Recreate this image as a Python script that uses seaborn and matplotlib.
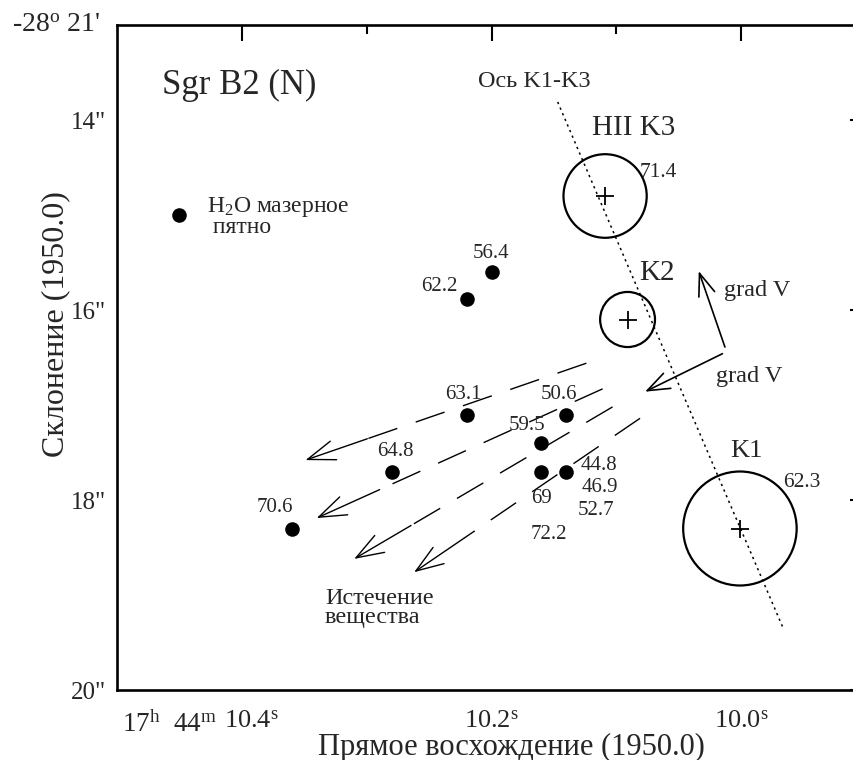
import numpy as np
import matplotlib
matplotlib.use("Agg")
import matplotlib.pyplot as plt
from matplotlib.patches import Ellipse
from matplotlib.transforms import blended_transform_factory, ScaledTranslation
import pandas as pd
import seaborn as sns

# H2O maser spots: RA in seconds (17h44m + s), Dec in arcsec (-28deg21' + ")
maser_ra = [10.22, 10.20, 10.22, 10.14, 10.16, 10.28, 10.16, 10.14, 10.36]
maser_dec = [15.88, 15.60, 17.10, 17.10, 17.40, 17.70, 17.70, 17.70, 18.30]

# radial velocities (km/s) of maser features and the spot each one belongs to
vel_text = ["62.2", "56.4", "63.1", "50.6", "59.5", "64.8",
            "69", "72.2", "44.8", "46.9", "52.7", "70.6"]
vel_spot = [0, 1, 2, 3, 4, 5, 6, 6, 7, 7, 7, 8]

# compact HII regions
hii_name = ["HII K3", "K2", "K1"]
hii_ra = [10.109, 10.091, 10.001]
hii_dec = [14.80, 16.10, 18.30]
hii_radius = [0.44, 0.29, 0.60]      # arcsec
hii_vel = ["71.4", "", "62.3"]

# K1-K3 axis
axis_ra = [10.147, 9.966]
axis_dec = [13.81, 19.36]

# outflow directions (start -> arrow tip)
flow_ra0 = [10.124, 10.111, 10.103, 10.081]
flow_dec0 = [16.56, 16.83, 17.02, 17.14]
flow_ra1 = [10.349, 10.340, 10.310, 10.262]
flow_dec1 = [17.58, 18.19, 18.62, 18.76]

# velocity gradient directions
grad_ra0 = [10.013, 10.015]
grad_dec0 = [16.39, 16.46]
grad_ra1 = [10.034, 10.077]
grad_dec1 = [15.59, 16.86]

# isolated spot used as a key
key_ra, key_dec = [10.45], [15.00]

x_major = [10.4, 10.2, 10.0]
x_major_labels = ["10.4", "10.2", "10.0"]
x_minor = [10.3, 10.1]
y_major = [14, 16, 18, 20]
y_major_labels = ['14"', '16"', '18"', '20"']
y_minor = [15, 17, 19]

DEC0 = -28.35  # deg, for RA seconds -> arcsec

sns.set_theme(style="white")
plt.rcParams["font.family"] = ["Liberation Serif", "DejaVu Serif"]
plt.rcParams["mathtext.fontset"] = "custom"
plt.rcParams["mathtext.rm"] = "Liberation Serif"
plt.rcParams["mathtext.it"] = "Liberation Serif:italic"
plt.rcParams["mathtext.bf"] = "Liberation Serif:bold"

fig = plt.figure(figsize=(8.54, 7.6), dpi=100)
ax = fig.add_axes([117 / 854, 70 / 760, 749 / 854, 665 / 760])
ax.set_xlim(10.5, 9.9)
ax.set_ylim(20, 13)
for s in ax.spines.values():
    s.set_linewidth(1.9)
    s.set_color("black")

# K1-K3 axis
ax.plot(axis_ra, axis_dec, color="black", lw=1.1, linestyle=(0, (1.5, 2.5)))

# HII regions
ras_per_arcsec = 1.0 / (15.0 * np.cos(np.radians(DEC0)))
for ra, dec, r in zip(hii_ra, hii_dec, hii_radius):
    ax.add_patch(Ellipse((ra, dec), 2 * r * ras_per_arcsec, 2 * r,
                         fill=False, edgecolor="black", lw=1.6))
hii_df = pd.DataFrame({"ra": hii_ra, "dec": hii_dec})
sns.scatterplot(data=hii_df, x="ra", y="dec", marker="+", s=150,
                color="black", linewidth=1.3, ax=ax, legend=False)

# maser spots
maser_df = pd.DataFrame({"ra": maser_ra + key_ra, "dec": maser_dec + key_dec})
sns.scatterplot(data=maser_df, x="ra", y="dec", s=110, color="black",
                edgecolor="black", linewidth=0, ax=ax, legend=False)

# ticks
ax.set_xticks(x_major)
ax.set_xticklabels([r"$\mathrm{%s}^{\mathrm{s}}$" % t for t in x_major_labels])
ax.set_xticks(x_minor, minor=True)
ax.set_yticks(y_major)
ax.set_yticklabels(y_major_labels)
ax.set_yticks(y_minor, minor=True)
ax.tick_params(which="both", direction="in", top=True, right=True,
               color="black", width=1.5)
ax.tick_params(which="major", length=11.5)
ax.tick_params(which="minor", length=6.5, right=False)
ax.tick_params(axis="x", which="major", labelsize=19, pad=15)
ax.tick_params(axis="y", which="major", labelsize=18, pad=8)
first = ax.get_xticklabels()[0]
first.set_transform(first.get_transform()
                    + ScaledTranslation(10 / 100, 0, fig.dpi_scale_trans))

ax.set_xlabel("Прямое восхождение (1950.0)", fontsize=22)
ax.set_ylabel("Склонение (1950.0)", fontsize=23)
ax.xaxis.set_label_coords(0.526, -0.064)
ax.yaxis.set_label_coords(-0.063, 0.55)

tb = blended_transform_factory(ax.transData, ax.transAxes)
ax.text(10.42, -0.063, r"17$^{\mathrm{h}}$  44$^{\mathrm{m}}$", transform=tb,
        ha="right", va="baseline", fontsize=19.5)
ax.text(-0.023, 1.0, r"-28$^{\mathrm{o}}$ 21'", transform=ax.transAxes,
        ha="right", va="center", fontsize=20)

# velocity labels (pixel offsets from their spot)
vel_offset = [(-27, 12), (0, 19), (-3, 20), (-7, 20), (-14, 18), (4, 20),
              (0, -27), (7, -63), (33, 6), (33, -16), (30, -39), (-17, 21)]
for txt, k, off in zip(vel_text, vel_spot, vel_offset):
    ax.annotate(txt, (maser_ra[k], maser_dec[k]), xytext=off,
                textcoords="offset pixels", ha="center", va="center",
                fontsize=15)

# outflow arrows: dashed body, solid last stretch ending in an open head
for ra0, de0, ra1, de1 in zip(flow_ra0, flow_dec0, flow_ra1, flow_dec1):
    ram = ra1 + 0.22 * (ra0 - ra1)
    dem = de1 + 0.22 * (de0 - de1)
    ax.plot([ra0, ram], [de0, dem], color="black", lw=1.0,
            linestyle=(0, (22, 14)), solid_capstyle="butt")
    ax.annotate("", xy=(ra1, de1), xytext=(ram, dem),
                arrowprops=dict(arrowstyle="->,head_length=0.9,head_width=0.32",
                                mutation_scale=22, lw=1.0, color="black",
                                shrinkA=0, shrinkB=0))

# velocity gradient arrows
for ra0, de0, ra1, de1 in zip(grad_ra0, grad_dec0, grad_ra1, grad_dec1):
    ax.annotate("", xy=(ra1, de1), xytext=(ra0, de0),
                arrowprops=dict(arrowstyle="->,head_length=0.8,head_width=0.3",
                                mutation_scale=20, lw=1.2, color="black",
                                shrinkA=0, shrinkB=0))

# text annotations
ax.text(10.464, 13.726, "Sgr B2 (N)", fontsize=25, ha="left", va="baseline")
ax.text(10.166, 13.653, "Ось K1-K3", fontsize=17.5, ha="center", va="baseline")
ax.text(10.086, 14.158, hii_name[0], fontsize=21, ha="center", va="baseline")
ax.text(10.0666, 14.60, hii_vel[0], fontsize=15.5, ha="center", va="baseline")
ax.text(10.0674, 15.684, hii_name[1], fontsize=21, ha="center", va="baseline")
ax.text(9.996, 17.547, hii_name[2], fontsize=19, ha="center", va="baseline")
ax.text(9.9513, 17.863, hii_vel[2], fontsize=15.5, ha="center", va="baseline")
ax.text(9.9873, 15.79, "grad V", fontsize=17.5, ha="center", va="center")
ax.text(9.9937, 16.705, "grad V", fontsize=17.5, ha="center", va="center")
ax.text(10.428, 15.189, "H$_2$O мазерное\n пятно", fontsize=17, ha="left",
        va="baseline", linespacing=0.85, multialignment="left")
ax.text(10.3334, 19.295, "Истечение\nвещества", fontsize=17.5, ha="left",
        va="baseline", linespacing=0.85, multialignment="left")

fig.savefig("out.png", dpi=100, facecolor="white")
